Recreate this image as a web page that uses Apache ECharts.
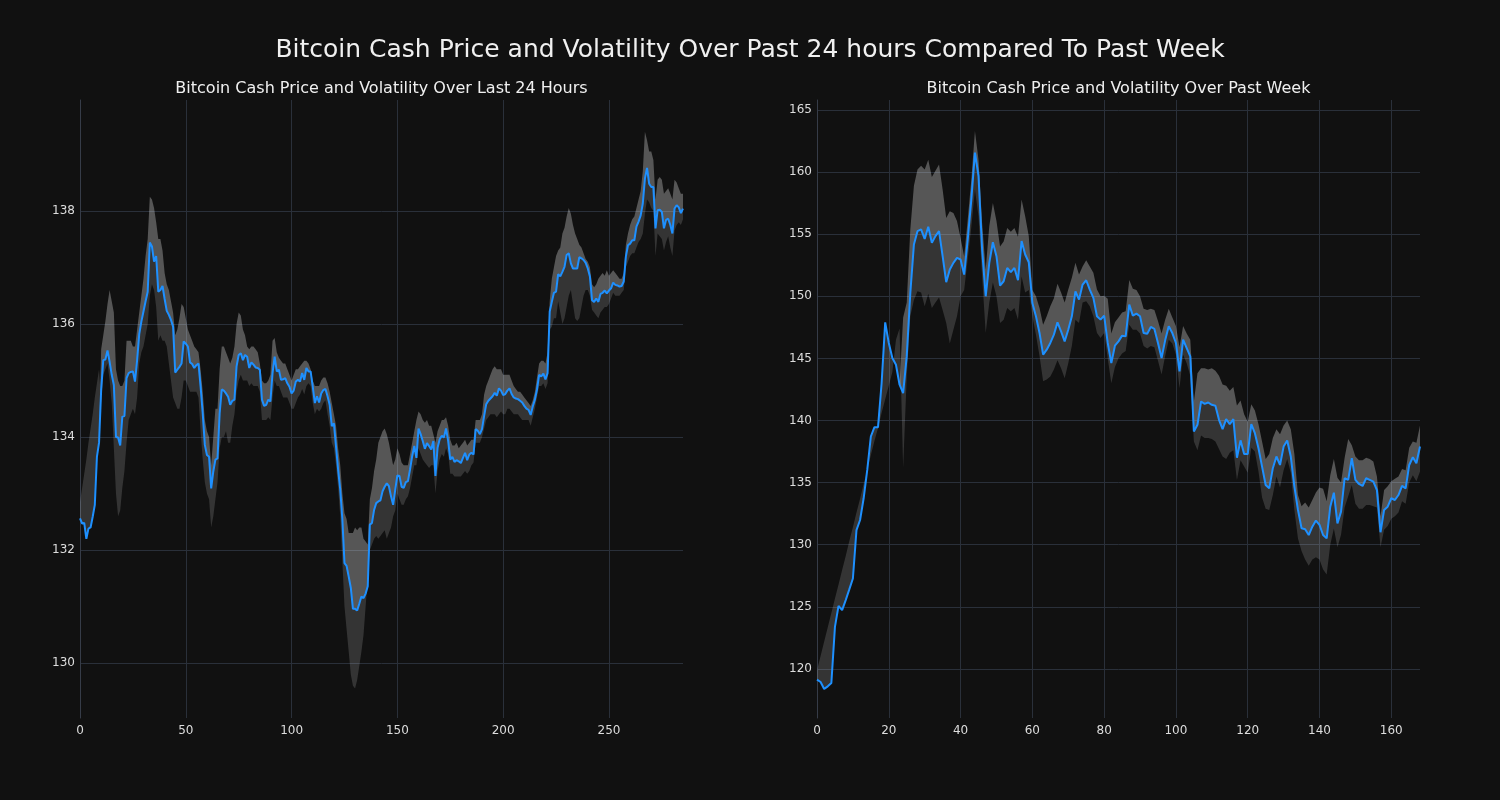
<!DOCTYPE html>
<html>
<head>
<meta charset="utf-8">
<script src="https://cdn.jsdelivr.net/npm/echarts@6/dist/echarts.min.js"></script>
<style>
html,body{margin:0;padding:0;background:#111111;}
#chart{width:1500px;height:800px;}
</style>
</head>
<body>
<div id="chart"></div>
<script>
// ---------- Texts ----------
const mainTitle = 'Bitcoin Cash Price and Volatility Over Past 24 hours Compared To Past Week';
const leftTitle = 'Bitcoin Cash Price and Volatility Over Last 24 Hours';
const rightTitle = 'Bitcoin Cash Price and Volatility Over Past Week';

// ---------- Tick labels ----------
const dayXTicks = [0, 50, 100, 150, 200, 250];
const dayYTicks = [130, 132, 134, 136, 138];
const weekXTicks = [0, 20, 40, 60, 80, 100, 120, 140, 160];
const weekYTicks = [120, 125, 130, 135, 140, 145, 150, 155, 160, 165];

// ---------- Last 24 hours (5-minute steps) ----------
const dayPrice = [
132.56,132.47,132.48,132.2,132.38,132.4,132.59,132.8,133.65,133.9,
134.83,135.36,135.37,135.53,135.33,135.1,134.92,134.0,133.99,133.85,
134.36,134.37,135.04,135.13,135.15,135.16,134.98,135.36,135.82,136.04,
136.22,136.4,136.57,137.44,137.37,137.1,137.2,136.57,136.6,136.67,
136.44,136.23,136.16,136.07,135.95,135.14,135.19,135.24,135.3,135.69,
135.65,135.6,135.32,135.29,135.22,135.27,135.3,134.89,134.42,133.86,
133.68,133.65,133.09,133.39,133.6,133.62,134.42,134.84,134.82,134.77,
134.71,134.57,134.64,134.66,135.25,135.45,135.48,135.36,135.45,135.42,
135.22,135.32,135.28,135.23,135.22,135.19,134.66,134.55,134.57,134.66,
134.63,135.13,135.42,135.16,135.19,135.01,135.02,135.04,134.95,134.89,
134.77,134.82,134.98,135.01,134.98,135.13,135.01,135.22,135.16,135.16,
134.89,134.6,134.72,134.61,134.77,134.83,134.85,134.72,134.57,134.19,
134.24,133.83,133.42,133.07,132.54,131.77,131.72,131.53,131.33,130.96,
130.96,130.93,131.05,131.18,131.15,131.23,131.36,132.45,132.48,132.71,
132.83,132.86,132.88,133.04,133.12,133.18,133.13,132.95,132.8,133.07,
133.32,133.31,133.12,133.1,133.2,133.22,133.43,133.66,133.84,133.63,
134.15,134.05,133.93,133.79,133.89,133.84,133.78,133.93,133.31,133.81,
133.96,134.02,133.99,134.15,133.93,133.6,133.65,133.56,133.59,133.57,
133.54,133.63,133.72,133.59,133.69,133.72,133.69,134.14,134.11,134.05,
134.14,134.37,134.58,134.64,134.68,134.72,134.78,134.73,134.86,134.82,
134.74,134.76,134.82,134.86,134.76,134.7,134.68,134.67,134.64,134.61,
134.55,134.5,134.48,134.39,134.54,134.66,134.84,135.1,135.07,135.12,
135.02,135.13,136.22,136.39,136.55,136.57,136.88,136.84,136.92,137.01,
137.22,137.25,137.07,136.98,136.98,136.98,137.18,137.16,137.13,137.08,
136.98,136.84,136.42,136.39,136.45,136.39,136.53,136.55,136.59,136.54,
136.59,136.63,136.73,136.69,136.68,136.66,136.67,136.75,137.19,137.39,
137.42,137.48,137.48,137.72,137.81,137.92,138.13,138.57,138.76,138.48,
138.42,138.42,137.69,138.01,138.02,137.98,137.69,137.84,137.86,137.75,
137.6,138.04,138.1,138.06,137.96,138.04
];
const dayUpper = [
132.56,132.47,132.48,132.2,132.38,132.4,132.59,132.8,133.65,133.9,
135.55,135.8,136.05,136.35,136.6,136.4,136.2,135.2,135.0,134.9,
134.9,135.0,135.7,135.7,135.7,135.6,135.6,135.9,136.2,136.5,
136.8,137.2,137.5,138.25,138.2,138.05,137.8,137.5,137.5,137.3,
136.9,136.7,136.6,136.4,136.2,135.8,135.9,136.1,136.35,136.3,
136.1,135.9,135.8,135.7,135.6,135.55,135.5,135.2,134.8,134.3,
134.1,134.0,133.5,134.0,134.5,134.5,135.2,135.6,135.6,135.5,
135.4,135.3,135.4,135.6,136.0,136.2,136.15,135.9,135.8,135.6,
135.55,135.6,135.6,135.55,135.5,135.3,135.0,134.95,134.95,135.0,
135.1,135.7,135.75,135.5,135.4,135.35,135.3,135.3,135.2,135.1,
135.0,135.1,135.2,135.2,135.25,135.3,135.35,135.35,135.3,135.2,
135.0,134.9,134.9,134.9,135.0,135.05,135.05,134.95,134.8,134.6,
134.4,134.2,133.8,133.5,133.0,132.65,132.55,132.3,132.3,132.3,
132.4,132.35,132.4,132.4,132.2,132.15,132.1,132.9,133.1,133.4,
133.6,133.9,134.0,134.1,134.15,134.05,133.9,133.7,133.5,133.6,
133.8,133.7,133.55,133.5,133.5,133.5,133.7,133.9,134.1,134.3,
134.45,134.4,134.3,134.25,134.3,134.2,134.2,134.05,133.9,134.1,
134.2,134.3,134.3,134.35,134.2,133.95,133.85,133.85,133.9,133.8,
133.85,133.9,133.95,133.85,133.9,133.95,133.95,134.3,134.3,134.3,
134.4,134.75,134.9,135.0,135.1,135.2,135.25,135.2,135.2,135.2,
135.1,135.1,135.1,135.1,135.0,134.9,134.85,134.8,134.8,134.75,
134.7,134.65,134.6,134.55,134.65,134.8,135.05,135.3,135.35,135.35,
135.3,135.5,136.4,136.8,137.0,137.2,137.3,137.35,137.6,137.7,
137.9,138.05,137.95,137.75,137.6,137.5,137.4,137.35,137.25,137.15,
137.1,137.0,136.7,136.65,136.7,136.8,136.85,136.9,136.85,136.95,
136.85,136.9,136.95,136.9,136.85,136.8,136.8,136.9,137.4,137.6,
137.75,137.85,137.9,138.05,138.2,138.35,138.7,139.4,139.25,139.05,
139.05,138.9,138.2,138.55,138.6,138.55,138.3,138.35,138.4,138.3,
138.2,138.55,138.5,138.4,138.3,138.3
];
const dayLower = [
132.85,133.1,133.35,133.6,133.9,134.15,134.4,134.7,134.95,135.2,
134.6,135.1,135.2,135.3,135.0,134.6,133.8,133.0,132.6,132.7,
133.1,133.4,133.9,134.3,134.4,134.5,134.4,134.7,135.3,135.5,
135.6,135.8,136.0,136.5,136.7,136.6,136.3,135.7,135.8,135.7,
135.7,135.6,135.3,135.0,134.7,134.6,134.5,134.5,134.7,135.0,
135.0,134.9,134.8,134.8,134.8,134.8,134.7,134.1,133.6,133.2,
133.0,132.9,132.4,132.6,132.9,133.2,133.8,134.0,134.0,134.1,
133.9,133.9,134.2,134.4,134.8,135.0,135.1,135.0,135.0,135.0,
134.9,134.95,134.9,134.9,134.9,134.8,134.3,134.3,134.3,134.35,
134.3,134.7,135.0,134.9,134.9,134.8,134.7,134.7,134.7,134.6,
134.5,134.5,134.6,134.7,134.75,134.85,134.75,134.9,134.95,134.9,
134.6,134.4,134.5,134.45,134.5,134.6,134.65,134.4,134.2,133.9,
133.8,133.5,133.1,132.6,131.8,131.0,130.6,130.2,129.8,129.6,
129.55,129.7,129.95,130.2,130.5,131.0,131.5,132.0,132.1,132.2,
132.25,132.2,132.25,132.3,132.35,132.2,132.3,132.4,132.6,132.7,
133.0,132.9,132.8,132.8,132.9,132.95,133.1,133.3,133.5,133.5,
133.8,133.7,133.6,133.55,133.5,133.45,133.5,133.5,133.0,133.4,
133.6,133.7,133.65,133.8,133.7,133.35,133.35,133.3,133.3,133.3,
133.3,133.35,133.4,133.35,133.4,133.5,133.55,133.9,133.9,133.9,
134.0,134.15,134.3,134.35,134.4,134.4,134.4,134.35,134.4,134.45,
134.4,134.4,134.5,134.5,134.45,134.4,134.4,134.4,134.35,134.3,
134.3,134.3,134.3,134.2,134.35,134.5,134.7,134.9,134.9,134.95,
134.85,134.95,135.9,135.95,136.1,136.1,136.4,136.2,136.0,136.1,
136.3,136.5,136.6,136.35,136.1,136.05,136.1,136.3,136.5,136.6,
136.6,136.5,136.25,136.2,136.15,136.1,136.2,136.25,136.3,136.3,
136.35,136.45,136.55,136.5,136.5,136.5,136.55,136.6,137.0,137.1,
137.2,137.25,137.25,137.35,137.45,137.5,137.6,137.95,138.2,138.15,
138.05,138.0,137.2,137.6,137.55,137.5,137.3,137.45,137.55,137.35,
137.2,137.65,137.75,137.8,137.75,137.85
];

// ---------- Past week (hourly steps) ----------
const weekPrice = [
119.14,118.95,118.39,118.6,118.87,123.39,125.08,124.73,125.54,126.4,
127.28,131.18,131.99,133.74,136.02,138.71,139.46,139.46,143.0,147.9,
146.24,145.03,144.49,142.88,142.2,145.16,150.27,154.17,155.24,155.38,
154.62,155.59,154.3,154.84,155.24,153.23,151.13,152.15,152.69,153.09,
152.96,151.75,154.57,157.8,161.56,159.68,153.76,150.0,152.69,154.35,
153.23,150.86,151.21,152.28,151.94,152.28,151.29,154.44,153.36,152.74,
149.46,148.39,147.04,145.3,145.7,146.24,146.91,147.9,147.18,146.37,
147.31,148.39,150.4,149.73,150.94,151.29,150.54,149.87,148.39,148.12,
148.44,146.24,144.62,146.02,146.37,146.83,146.77,149.33,148.44,148.6,
148.39,147.04,146.99,147.53,147.37,146.24,145.03,146.45,147.58,147.04,
146.24,143.95,146.51,145.83,145.16,139.11,139.65,141.53,141.34,141.45,
141.26,141.18,140.05,139.3,140.11,139.7,140.11,137.0,138.4,137.3,
137.3,139.7,138.98,137.77,136.29,134.81,134.54,136.16,137.1,136.42,
137.9,138.39,137.1,134.68,132.8,131.32,131.24,130.78,131.45,131.94,
131.59,130.78,130.51,133.06,134.19,131.72,132.66,135.35,135.22,136.96,
135.22,134.89,134.73,135.35,135.22,135.08,134.4,131.0,132.8,133.06,
133.74,133.6,134.0,134.73,134.54,136.42,137.04,136.56,137.9
];
const weekUpper = [
119.14,118.95,118.39,118.6,118.87,123.39,125.08,124.73,125.54,126.4,
127.28,131.18,131.99,133.74,136.02,138.71,139.46,139.5,143.0,147.9,
146.24,145.03,144.49,142.88,148.3,149.5,155.4,158.9,160.2,160.5,
160.2,161.0,159.6,160.1,160.6,158.6,156.3,156.85,156.7,156.05,
154.7,153.2,156.2,159.4,163.3,161.0,155.9,152.15,155.65,157.5,
156.05,154.0,154.4,155.5,155.2,155.5,154.8,157.8,156.45,154.85,
150.5,150.0,149.05,147.7,148.4,149.2,149.85,151.0,150.3,149.5,
150.55,151.5,152.7,151.75,152.4,152.9,152.4,151.9,150.55,150.0,
150.05,149.8,147.0,147.9,148.3,148.7,148.8,151.3,150.6,150.5,
150.0,149.0,148.9,149.0,148.9,148.0,147.0,148.1,149.0,148.3,
147.6,145.9,147.6,147.0,146.5,141.5,143.8,144.2,144.2,144.1,
144.2,144.0,143.6,142.9,142.8,142.4,142.7,141.2,141.6,140.5,
139.9,141.3,140.8,139.7,138.3,136.9,137.3,138.6,139.3,138.9,
139.6,140.0,139.3,137.3,134.0,133.1,133.4,133.0,133.6,134.2,
134.6,134.5,133.5,135.6,136.9,135.4,135.0,137.0,138.5,138.0,
137.1,136.8,136.8,137.0,136.9,136.7,135.5,132.3,134.4,134.7,
135.1,135.3,135.5,136.1,136.0,137.8,138.3,138.2,139.6
];
const weekLower = [
119.9,121.05,122.2,123.36,124.5,125.67,126.8,127.97,129.1,130.3,
131.4,132.6,133.7,134.9,136.0,137.2,138.35,139.4,140.6,141.7,
142.8,143.9,146.5,147.4,136.2,143.5,148.4,149.7,150.4,150.3,
149.2,150.2,149.05,149.5,149.9,148.9,147.85,146.2,147.3,148.4,
150.0,150.5,153.0,155.6,158.6,156.45,151.6,147.05,149.5,151.1,
150.0,147.85,148.1,149.05,148.8,149.05,148.1,151.6,150.3,150.5,
148.4,146.9,145.2,143.15,143.3,143.55,144.1,144.85,144.2,143.4,
144.6,146.0,148.1,147.85,149.5,149.6,149.2,148.4,147.05,146.65,
147.05,145.0,143.0,144.3,145.0,145.4,145.6,147.7,147.3,147.3,
147.0,146.0,145.8,146.0,145.9,144.8,143.7,145.2,146.5,146.2,
145.3,142.6,145.3,144.6,143.6,138.3,137.6,138.8,138.6,138.6,
138.5,138.3,137.7,137.1,136.9,137.4,137.6,135.2,136.8,136.3,
135.8,137.8,137.5,135.9,133.8,132.9,132.8,134.0,135.5,134.6,
136.0,136.9,135.8,132.8,130.5,129.5,128.8,128.3,128.8,129.0,
128.8,128.0,127.6,130.0,131.3,129.8,130.8,133.0,133.9,134.8,
133.3,132.9,132.9,133.2,133.2,133.1,133.0,129.8,131.2,131.5,
132.1,132.3,132.6,133.5,133.3,135.0,135.6,135.1,135.9
];

// ---------- Build ----------
const BG = '#111111';
const GRID = '#2a303a';
const LABEL = '#dddddd';
const FONT = 'DejaVu Sans';
const LIGHT = 'rgba(255,255,255,0.29)';
const DARK = 'rgba(255,255,255,0.15)';
const LINE = '#1e90ff';

function pairs(arr) { return arr.map((v, i) => [i, v]); }

// Band polygon between two value arrays, positioned through the axis scales (api.coord)
function bandPolygon(idx, edgeA, edgeB, color, z) {
  return {
    type: 'custom', xAxisIndex: idx, yAxisIndex: idx, silent: true, animation: false, clip: true, z: z,
    data: pairs(edgeA),
    renderItem: function (params, api) {
      if (params.dataIndex !== 0) return null;
      const pts = [];
      for (let i = 0; i < edgeA.length; i++) pts.push(api.coord([i, edgeA[i]]));
      for (let i = edgeB.length - 1; i >= 0; i--) pts.push(api.coord([i, edgeB[i]]));
      return { type: 'polygon', shape: { points: pts }, style: { fill: color, stroke: null }, silent: true };
    }
  };
}

function seriesFor(idx, price, upper, lower) {
  return [
    bandPolygon(idx, lower, price, DARK, 1),
    bandPolygon(idx, price, upper, LIGHT, 2),
    { type: 'line', xAxisIndex: idx, yAxisIndex: idx, symbol: 'none', animation: false, silent: true,
      data: pairs(price), lineStyle: { color: LINE, width: 2 }, z: 5 }
  ];
}

function xAxis(idx, max, ticks) {
  return {
    type: 'value', gridIndex: idx, min: 0, max: max,
    axisLine: { show: false },
    axisTick: { show: false, customValues: ticks },
    axisLabel: { color: LABEL, fontSize: 12, fontFamily: FONT, margin: 7, customValues: ticks },
    splitLine: { show: true, lineStyle: { color: GRID, width: 1 } }
  };
}
function yAxis(idx, min, max, ticks) {
  return {
    type: 'value', gridIndex: idx, min: min, max: max,
    axisLine: { show: true, lineStyle: { color: '#363c48', width: 1 } },
    axisTick: { show: false, customValues: ticks },
    axisLabel: { color: LABEL, fontSize: 12, fontFamily: FONT, margin: 5, customValues: ticks },
    splitLine: { show: true, lineStyle: { color: GRID, width: 1 } }
  };
}

const chart = echarts.init(document.getElementById('chart'), null, { renderer: 'canvas' });
chart.setOption({
  backgroundColor: BG,
  animation: false,
  grid: [
    { left: 80, top: 100, width: 603, height: 618 },
    { left: 817, top: 100, width: 603, height: 618 }
  ],
  xAxis: [xAxis(0, 285, dayXTicks), xAxis(1, 168, weekXTicks)],
  yAxis: [yAxis(0, 129.03, 139.96, dayYTicks), yAxis(1, 116.05, 165.8, weekYTicks)],
  graphic: [
    { type: 'text', x: 750, y: 50, style: { text: mainTitle, fill: '#f0f0f0', font: '25px "DejaVu Sans"', textAlign: 'center', textVerticalAlign: 'middle' } },
    { type: 'text', x: 381.5, y: 89, style: { text: leftTitle, fill: '#f0f0f0', font: '16px "DejaVu Sans"', textAlign: 'center', textVerticalAlign: 'middle' } },
    { type: 'text', x: 1118.5, y: 89, style: { text: rightTitle, fill: '#f0f0f0', font: '16px "DejaVu Sans"', textAlign: 'center', textVerticalAlign: 'middle' } }
  ],
  series: [].concat(
    seriesFor(0, dayPrice, dayUpper, dayLower),
    seriesFor(1, weekPrice, weekUpper, weekLower)
  )
});
</script>
</body>
</html>
